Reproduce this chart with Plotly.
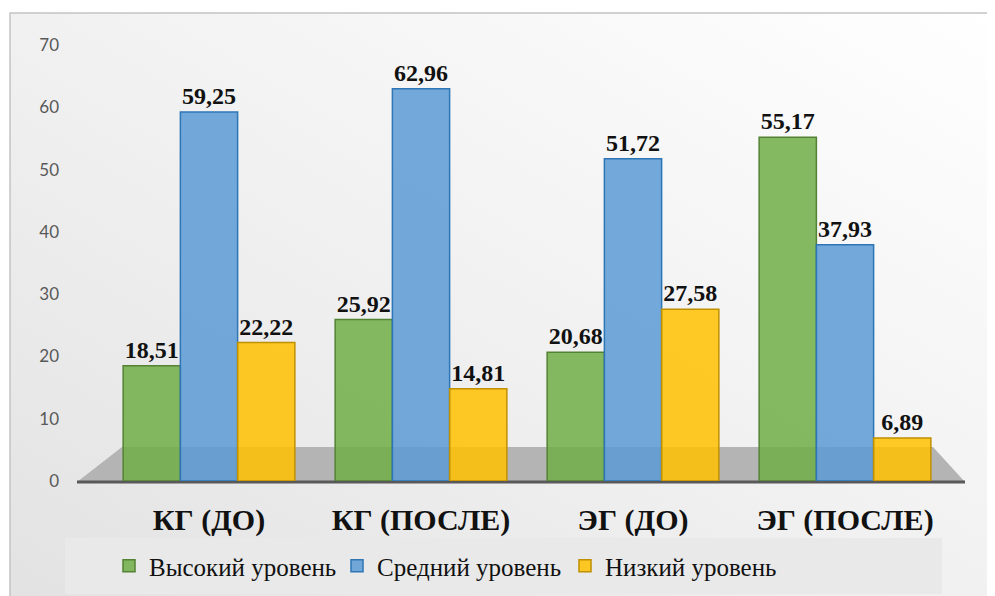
import base64
import plotly.graph_objects as go

categories = ["КГ (ДО)", "КГ (ПОСЛЕ)", "ЭГ (ДО)", "ЭГ (ПОСЛЕ)"]
series_names = ["Высокий уровень", "Средний уровень", "Низкий уровень"]
high = [18.51, 25.92, 20.68, 55.17]
medium = [59.25, 62.96, 51.72, 37.93]
low = [22.22, 14.81, 27.58, 6.89]
y_ticks = [0, 10, 20, 30, 40, 50, 60, 70]

fills = ["rgba(112,173,71,0.85)", "rgba(91,155,213,0.85)", "rgba(255,192,0,0.85)"]
lines = ["#548235", "#2e75b6", "#bf9000"]

SERIF = "Liberation Serif"
# target screen geometry (page body adds an 8px offset)
OFF = 8
SW, SH = 995, 596
W, H = SW - OFF, SH - OFF
L, R, T, B = 103, 951, 45, 481  # plot area in screen pixels


def px(x):
    return (x - L) / (R - L)


def py(y):
    return (B - y) / (B - T)


def fmt(v):
    return f"{v:.2f}".replace(".", ",")


fig = go.Figure()
for name, vals, fc, lc in zip(series_names, [high, medium, low], fills, lines):
    fig.add_trace(go.Bar(
        x=categories, y=vals, name=name,
        marker=dict(color=fc, line=dict(color=lc, width=1.5)),
        text=[fmt(v) for v in vals], textposition="outside", cliponaxis=False,
        textfont=dict(family=SERIF, size=24, color="#111111", weight="bold"),
    ))

svg = f"""<svg xmlns='http://www.w3.org/2000/svg' width='{W}' height='{H}'>
<defs><linearGradient id='g' x1='1' y1='0' x2='0' y2='1'>
<stop offset='0' stop-color='#ffffff'/><stop offset='0.5' stop-color='#f1f1f1'/>
<stop offset='1' stop-color='#e2e2e2'/></linearGradient></defs>
<rect x='0' y='0' width='{W}' height='{H}' fill='#ffffff'/>
<rect x='{10 - OFF}' y='{13 - OFF}' width='{W + 10}' height='{H + 10}' fill='url(#g)' stroke='#c4c4c4' stroke-width='1.5'/>
</svg>"""
src = "data:image/svg+xml;base64," + base64.b64encode(svg.encode()).decode()

shapes = [
    dict(type="path", xref="paper", yref="paper", layer="below",
         path=f"M {px(77)} {py(482)} L {px(122)} {py(447)} L {px(933)} {py(447)} L {px(965)} {py(482)} Z",
         fillcolor="#b4b4b4", line=dict(width=0)),
    dict(type="line", xref="paper", yref="paper", layer="below",
         x0=px(77), x1=px(965), y0=py(482), y1=py(482), line=dict(color="#595959", width=3)),
    dict(type="rect", xref="paper", yref="paper", layer="below",
         x0=px(65), x1=px(942), y0=py(538), y1=py(594), fillcolor="#e9e9e9", line=dict(width=0)),
]

fig.update_layout(
    width=W, height=H,
    margin=dict(l=L - OFF, r=SW - R, t=T - OFF, b=SH - B, autoexpand=False),
    paper_bgcolor="white", plot_bgcolor="rgba(0,0,0,0)",
    font=dict(family=SERIF, color="#111111"),
    barmode="group", bargap=0.19, bargroupgap=0,
    images=[dict(source=src, xref="paper", yref="paper", x=px(OFF), y=py(OFF),
                 sizex=W / (R - L), sizey=H / (B - T), xanchor="left", yanchor="top",
                 sizing="stretch", layer="below")],
    shapes=shapes,
    showlegend=True,
    legend=dict(orientation="h", x=px(109), y=py(566), xanchor="left", yanchor="middle",
                entrywidth=183, entrywidthmode="pixels", bgcolor="rgba(0,0,0,0)",
                font=dict(family=SERIF, size=25, color="#111111"),
                itemclick=False, traceorder="normal"),
    xaxis=dict(showgrid=False, showline=False, ticks="", ticklabelstandoff=18, automargin=False,
               tickfont=dict(family=SERIF, size=30, color="#111111", weight="bold")),
    yaxis=dict(range=[0, 70], tickvals=y_ticks, showgrid=False, zeroline=False, showline=False,
               ticks="", ticklabelstandoff=43, automargin=False,
               tickfont=dict(family="Lato", size=17, color="#595959")),
)

fig.write_html("out.html")
